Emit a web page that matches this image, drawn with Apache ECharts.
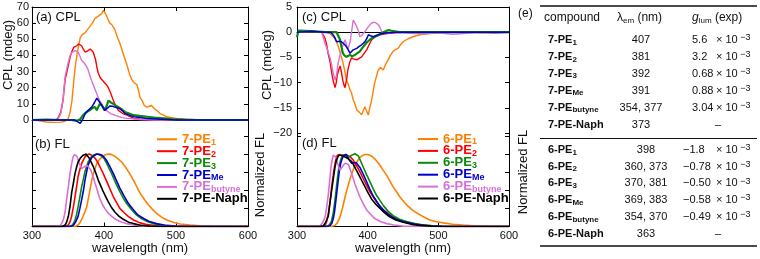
<!DOCTYPE html>
<html><head><meta charset="utf-8">
<script src="https://cdn.jsdelivr.net/npm/echarts@6/dist/echarts.min.js"></script>
<style>html,body{margin:0;padding:0;background:#fff}#c{width:760px;height:259px}</style>
</head><body><div id="c"></div><script>
// ---------- data ----------
const wavelengthTicks = [300, 400, 500, 600];
const names7 = ['7-PE{s|1}','7-PE{s|2}','7-PE{s|3}','7-PE{s|Me}','7-PE{s|butyne}','7-PE-Naph'];
const names6 = ['6-PE{s|1}','6-PE{s|2}','6-PE{s|3}','6-PE{s|Me}','6-PE{s|butyne}','6-PE-Naph'];
const lambda7 = ['407','381','392','391','354, 377','373'];
const lambda6 = ['398','360, 373','370, 381','369, 383','354, 370','363'];
const g7 = ['5.6','3.2','0.68','0.88','3.04',null];
const g6 = ['\u22121.8','\u22120.78','\u22120.50','\u22120.58','\u22120.49',null];

// (a) CPL, 7-PE series (nm, mdeg)
const cplA_PE1 = [[300,0],[310,-0.5],[320,-1.2],[330,-1.5],[340,-1.3],[346,-0.8],[350,0.5],[353,5],[355.5,12],[358,24],[360,33],[363,42],[367,51],[370,53],[373.6,54],[377,56],[380.5,58],[384,60],[387.5,63],[391,64],[394,65],[397,66],[399,68],[401,67],[403,65],[406,62],[408,60],[411,59],[413,58],[415,56],[418,52],[422,47.5],[426,42],[429,38],[432,34],[435,29],[438.6,25],[442,23],[445.6,22],[448,18],[450,14],[453,12],[456,9],[459.6,8],[463,8.5],[466,9],[470,7],[473,6],[478,4],[483,3],[487,2],[494,1.5],[501,1],[508,0.8],[515,0.5],[525,0.2],[540,0],[560,-0.2],[580,0],[600,0]];
const cplA_PE2 = [[300,0],[320,0],[333,0],[336,1],[340,5],[343,12],[346,25],[350,33],[353,39],[355,42],[358,45],[362,46],[365,47],[367,48],[369,46],[371,44],[374,42],[376,43],[378,43],[381,44],[383,44],[385,42],[388,38],[390,33],[392,29],[395,26],[399,24],[403,22],[406,20],[409,17],[413,12],[416,9],[420,6],[426,4],[432,3],[437,2],[441,1],[450,0.5],[470,0],[600,0]];
const cplA_PE3 = [[300,0],[320,0.3],[340,0],[355,0],[362,-0.5],[367,0.5],[371,3],[376,5],[380,6],[384,7.5],[387.5,8],[390,6],[392,8],[394,10],[397,9],[401,6],[404,9],[406,12],[409,11],[413,10],[416,9],[420,8],[425,6.5],[429,5],[435,4],[441,3],[450,2.5],[460,2],[470,1.5],[483,1],[495,0.5],[510,0.2],[530,0],[600,0]];
const cplA_PEMe = [[300,0],[340,0],[355,0],[360,0],[363,-1],[367,-2],[370,0],[374,4],[378,6],[383,8],[387,11],[390,13.5],[392,13],[394,11],[397,9],[401,6],[404,7],[408,8.6],[412,8.5],[415,8],[419,7.5],[422,7],[426,5.5],[429,4],[435,3],[441,2],[450,1.5],[460,1],[480,0.5],[500,0],[600,0]];
const cplA_PEbutyne = [[300,0],[330,0],[336,0.5],[340,4],[343,12],[346,27],[350,35],[353,40],[356,42],[360,43],[362,43],[364,42],[367,39],[369,37],[373,35],[376,33],[378,31],[380,28],[384,23],[387.5,19],[391,15],[394,12],[398,9],[403,6],[409,4],[415,3],[425,1.5],[432,1],[450,0.3],[470,0],[600,0]];

// (c) CPL, 6-PE series
const cplC_PE1 = [[300,0],[320,0.2],[340,0],[347,-0.3],[352,-1],[356,-1.9],[360,-3.5],[365,-6],[368,-8],[370,-9.5],[373,-10.5],[375,-11.5],[377,-12],[379.5,-13.4],[382,-14.2],[384.5,-15.4],[387,-15.6],[389,-16],[391.5,-16.4],[394,-15.5],[396,-14.8],[398,-15.5],[401,-16.4],[403,-15],[405.7,-13.4],[408,-11.5],[410,-10],[413,-8.5],[415,-7.5],[418,-7],[420,-7.3],[422,-7.5],[425,-6.5],[429,-5.5],[432,-4.6],[436,-3.8],[440,-3.4],[443,-3.2],[446,-2.6],[450,-1.9],[457,-1.3],[464,-0.9],[471,-0.6],[478,-0.4],[490,-0.2],[510,0],[540,0.1],[560,-0.1],[600,0]];
const cplC_PE2 = [[300,0],[320,0.2],[335,0],[339.6,-1.2],[342,-2.5],[344,-4.2],[347,-6],[349,-8],[351.5,-9.8],[353.8,-11],[355.5,-10],[357,-8.5],[359,-7.5],[361,-6.7],[363,-8],[364.7,-9.5],[366.5,-10.5],[368,-11],[370,-9.5],[372,-7.5],[374.5,-6],[377,-5.1],[380,-5.3],[384.5,-5.5],[388,-5.2],[391.5,-4.9],[395,-4.2],[398.6,-3.5],[402,-2.5],[405.7,-1.5],[410,-1],[417,-0.5],[430,-0.2],[450,0],[600,0]];
const cplC_PE3 = [[300,-1],[302,0.3],[320,0.2],[340,0],[356,0],[361,-1.5],[363,-3],[365,-4.2],[367,-4.6],[370,-4.9],[372,-4.7],[375,-4.5],[378,-4.8],[382,-4.5],[385,-4.2],[389,-3.8],[392,-3.2],[396,-2.5],[399,-2],[403,-1.5],[406,-1.2],[410,-0.9],[415,-0.6],[422,0],[427,0.3],[431,0.4],[436,0.2],[445,0],[600,0]];
const cplC_PEMe = [[300,0],[320,0.2],[340,0],[348,0],[351,-0.5],[354,-1.2],[356,-1.9],[360,-1.8],[363,-1.9],[367,-2.4],[370,-2.9],[373,-3.6],[375,-4.2],[377,-3.9],[379.5,-3.5],[382,-3.3],[384.5,-3.2],[388,-2.8],[391.5,-2.5],[394,-2.2],[396,-1.9],[399,-1.2],[401,-0.5],[404,-0.7],[408,-0.9],[411,-0.7],[415,-0.5],[422,-0.2],[440,0],[600,0]];
const cplC_PEbutyne = [[300,0],[320,0.2],[335,0],[339.6,-2.2],[343,-3.5],[346.7,-5.1],[349,-6.5],[351,-8],[354,-9.5],[356,-8.5],[357.5,-6.7],[360,-5],[363,-3.5],[366,-2.2],[368,-1.5],[370,-2.5],[372,-3.5],[375,-2],[377,-0.2],[379.5,2.4],[382,1.8],[384.5,1.1],[387,0.2],[389,-0.9],[392,-0.6],[394,-0.2],[397,0.3],[401,1.1],[404,1.6],[408,2],[411,1.9],[415,1.5],[418,0.8],[420,0],[425,-0.3],[431,-0.1],[440,0],[460,-0.2],[480,-0.3],[500,-0.1],[520,-0.4],[540,-0.2],[560,0],[580,-0.2],[600,0]];

// (b) normalized FL, 7-PE series
const flB_PE1 = [[300,0],[360,0],[364,0.02],[367,0.06],[370,0.12],[373,0.19],[376,0.27],[379.5,0.45],[383,0.64],[386.5,0.77],[390,0.87],[393.5,0.92],[397,0.96],[401,0.985],[406,1.0],[410,0.995],[415,0.97],[420,0.93],[424.5,0.89],[429,0.83],[433.8,0.76],[438.5,0.68],[443,0.6],[447.5,0.51],[452,0.43],[457,0.36],[461.6,0.3],[467,0.24],[473,0.18],[480,0.13],[487,0.09],[496,0.06],[505.6,0.035],[520,0.02],[533,0.01],[550,0.004],[600,0]];
const flB_PE2 = [[300,0],[345,0],[350.5,0.02],[353,0.07],[355,0.14],[357.5,0.27],[359.7,0.41],[362,0.55],[364,0.69],[366.5,0.79],[369,0.87],[371.5,0.92],[373.6,0.96],[376.5,0.99],[379.6,1.0],[382,0.99],[385,0.97],[388.5,0.93],[392,0.87],[395.5,0.8],[399,0.73],[402.5,0.65],[406,0.57],[409.5,0.49],[413,0.41],[417.5,0.33],[422,0.25],[428,0.19],[433.7,0.14],[441,0.09],[450,0.05],[458,0.03],[468,0.016],[480,0.007],[496,0],[600,0]];
const flB_PE3 = [[300,0],[350,0],[355,0.01],[357.5,0.04],[359.7,0.09],[362,0.17],[364,0.27],[366.5,0.41],[369,0.55],[371.5,0.66],[373.6,0.76],[376,0.83],[378,0.89],[380.5,0.93],[383,0.97],[386.5,0.99],[390,1.0],[393.5,0.99],[397,0.97],[400.5,0.93],[403.7,0.87],[407,0.8],[410.7,0.73],[414,0.65],[417.6,0.57],[422,0.48],[426.8,0.39],[432,0.31],[438.4,0.23],[445,0.16],[452,0.11],[460,0.07],[468,0.04],[477,0.02],[487,0.008],[500,0],[600,0]];
const flB_PEMe = [[300,0],[352,0],[357,0.01],[360.5,0.06],[364,0.14],[366.5,0.25],[369,0.37],[371.5,0.5],[373.6,0.64],[376,0.76],[378,0.85],[380.5,0.9],[383,0.95],[386.5,0.98],[390,1.0],[393.5,0.995],[397,0.985],[400.5,0.95],[403.7,0.91],[408,0.83],[413,0.73],[417.5,0.63],[422,0.53],[428,0.42],[433.7,0.32],[440,0.24],[447,0.16],[455,0.11],[463,0.07],[473,0.04],[487,0.015],[500,0.005],[520,0],[600,0]];
const flB_PEbutyne = [[300,0],[334,0],[338.9,0.01],[341,0.04],[343.5,0.09],[346,0.2],[348,0.37],[350.5,0.55],[352.8,0.73],[355,0.86],[357,0.96],[359,0.99],[361,1.0],[362.5,0.97],[364,0.92],[366.5,0.85],[369,0.8],[371,0.8],[373.6,0.83],[376.8,0.84],[379,0.82],[381.5,0.78],[384.5,0.7],[387.5,0.6],[391,0.49],[394,0.39],[397.5,0.31],[401,0.25],[405.5,0.19],[410.7,0.14],[416,0.1],[422,0.07],[431,0.04],[441,0.02],[455,0.005],[470,0],[600,0]];
const flB_PENaph = [[300,0],[342,0],[346,0.02],[348,0.06],[350.5,0.14],[353,0.29],[355,0.46],[357.5,0.6],[359.7,0.73],[362,0.82],[364,0.89],[367,0.94],[370.4,0.98],[372.5,0.995],[375,1.0],[377,0.98],[379.6,0.94],[382,0.89],[385,0.83],[388.5,0.74],[392,0.64],[395.5,0.56],[399,0.48],[402.5,0.41],[406,0.34],[410,0.27],[415,0.2],[421,0.14],[426.8,0.1],[434,0.06],[441,0.04],[452,0.015],[463,0.005],[480,0],[600,0]];

// (d) normalized FL, 6-PE series
const flD_PE1 = [[300,0],[348,0],[353.7,0.015],[357,0.05],[360.8,0.13],[364.5,0.26],[368,0.41],[371.5,0.54],[375,0.66],[378.5,0.76],[382,0.85],[385.5,0.91],[389,0.96],[392.5,0.985],[396.3,1.0],[400,1.0],[403.3,0.99],[406.5,0.97],[410,0.94],[413.5,0.9],[417.5,0.85],[422,0.78],[427,0.71],[431.5,0.63],[436,0.55],[441,0.48],[445.7,0.41],[451.5,0.34],[457.5,0.28],[463,0.23],[469,0.19],[478,0.14],[488,0.09],[497,0.065],[507,0.05],[520,0.032],[535,0.02],[550,0.01],[563.6,0.005],[580,0],[600,0]];
const flD_PE2 = [[300,0],[335,0],[339.7,0.01],[342,0.07],[344.4,0.18],[347,0.36],[349,0.55],[351.5,0.73],[353.7,0.87],[355.5,0.95],[357,0.99],[360.8,1.0],[364.6,0.97],[368,0.985],[371,0.99],[375,0.97],[379.8,0.92],[383,0.86],[386.8,0.8],[390.5,0.73],[394,0.66],[398.5,0.57],[403.3,0.48],[408,0.41],[412.7,0.34],[417.5,0.28],[422.2,0.23],[429,0.18],[436,0.13],[445,0.09],[455,0.06],[467,0.035],[478.7,0.02],[495,0.008],[510,0],[600,0]];
const flD_PE3 = [[300,0],[340,0],[344.4,0.01],[347,0.04],[349,0.08],[351.5,0.2],[353.7,0.36],[355.5,0.52],[357.5,0.69],[359,0.8],[360.8,0.89],[362.7,0.95],[364.6,0.99],[367,1.0],[369.4,1.0],[371,0.98],[372.7,0.96],[375,0.97],[377.4,0.99],[380,1.0],[382,1.01],[384.5,1.0],[386.8,0.98],[390,0.91],[394,0.82],[398.5,0.72],[403.3,0.62],[408,0.52],[412.7,0.43],[417.5,0.36],[422.2,0.29],[429,0.21],[436,0.15],[445,0.1],[455,0.07],[467,0.04],[478.7,0.02],[497,0.008],[515,0],[600,0]];
const flD_PEMe = [[300,0],[342,0],[346.7,0.01],[349,0.04],[351.4,0.11],[353,0.2],[355,0.36],[356.8,0.51],[358.5,0.66],[360,0.78],[361.7,0.87],[363.5,0.93],[365.6,0.98],[367.5,0.995],[369.4,1.0],[371,0.98],[373,0.94],[375,0.91],[377.4,0.88],[380,0.88],[383.5,0.89],[386,0.87],[389,0.82],[393.5,0.73],[398.6,0.62],[403,0.52],[408,0.42],[412.7,0.35],[417.5,0.28],[424,0.21],[431.6,0.15],[440,0.1],[450,0.07],[462,0.04],[474,0.02],[490,0.008],[505,0],[600,0]];
const flD_PEbutyne = [[300,0],[328,0],[332.6,0.01],[336,0.05],[339.7,0.13],[342,0.27],[344.4,0.45],[346.3,0.64],[348,0.82],[350,0.94],[351.4,0.99],[353.7,1.0],[355.5,0.96],[357,0.89],[359,0.83],[360.8,0.78],[363,0.8],[365.6,0.85],[368,0.88],[370.3,0.89],[372.7,0.86],[375,0.8],[378.5,0.7],[382,0.59],[385.5,0.5],[389,0.41],[393.5,0.32],[398.6,0.23],[404,0.17],[410,0.11],[418,0.07],[427,0.04],[437,0.02],[450,0.005],[470,0],[600,0]];
const flD_PENaph = [[300,0],[332,0],[337.3,0.01],[340,0.05],[342,0.09],[344.4,0.15],[346.5,0.32],[349,0.5],[351.5,0.67],[353.7,0.82],[355.5,0.91],[357.5,0.96],[359.5,0.99],[361.7,1.0],[363.7,0.99],[365.6,0.98],[368,0.965],[370.3,0.95],[372.7,0.94],[375,0.93],[377.4,0.9],[379.8,0.86],[383,0.8],[386.8,0.73],[391.5,0.64],[396.3,0.55],[401,0.46],[405.7,0.38],[411.5,0.31],[417.5,0.25],[424,0.19],[431.6,0.13],[440,0.09],[450,0.06],[462,0.03],[474,0.015],[490,0.005],[505,0],[600,0]];

// ---------- styling / layout ----------
const COLORS = ['#FF8000','#FF0000','#0A8A0A','#0000CC','#DA70D6','#000000'];
const FONT = '"Liberation Sans", Arial, Helvetica, sans-serif';
const G = [
  {left:32, top:7, width:216, height:113},
  {left:32, top:120, width:216, height:106.5},
  {left:297, top:7, width:212, height:126},
  {left:297, top:133, width:212, height:93.5}
];
const FL_MAX_B = 106.5/72.5;
const FL_MAX_D = 93.5/72;
const BLACK = '#000';

function xAx(gi, pos, o) {
  return Object.assign({
    gridIndex: gi, type:'value', min: wavelengthTicks[0], max: wavelengthTicks[wavelengthTicks.length-1], interval: 100,
    position: pos,
    axisLine: {show:true, onZero:false, lineStyle:{color:BLACK, width:1}},
    axisTick: {show:true, inside:true, length:4, lineStyle:{color:BLACK}},
    axisLabel: {show:false},
    splitLine: {show:false}
  }, o || {});
}
function yAx(gi, pos, min, max, interval, o) {
  return Object.assign({
    gridIndex: gi, type:'value', min, max, interval, position: pos,
    axisLine: {show:true, onZero:false, lineStyle:{color:BLACK, width:1}},
    axisTick: {show:true, inside:true, length:4, lineStyle:{color:BLACK}},
    axisLabel: {show:false},
    splitLine: {show:false}
  }, o || {});
}
const bottomLabel = {show:true, color:'#111', fontSize:11, fontFamily:FONT, margin:4, showMinLabel:true, showMaxLabel:true};
const xName = {name:'wavelength (nm)', nameLocation:'middle', nameGap:15,
  nameTextStyle:{color:'#111', fontSize:13, fontFamily:FONT, verticalAlign:'top'}};

const xAxis = [
  xAx(0,'bottom',{axisTick:{show:false}}),
  xAx(0,'top'),
  xAx(1,'bottom',Object.assign({axisLabel:bottomLabel}, xName)),
  xAx(2,'bottom',{axisLine:{show:true, onZero:true, lineStyle:{color:BLACK, width:1}}, axisTick:{show:false}}),
  xAx(2,'top'),
  xAx(3,'bottom',Object.assign({axisLabel:bottomLabel}, xName))
];
const yAxis = [
  yAx(0,'left',0,70,10,{axisLabel:{show:true, color:'#111', fontSize:11, fontFamily:FONT, margin:3, showMinLabel:true, showMaxLabel:true}}),
  yAx(0,'right',0,70,10),
  yAx(1,'left',0,FL_MAX_B,0.25),
  yAx(1,'right',0,FL_MAX_B,0.25),
  yAx(2,'left',-20,5,5,{axisLabel:{show:true, color:'#111', fontSize:11, fontFamily:FONT, margin:5,
      showMinLabel:true, showMaxLabel:true, hideOverlap:false,
      formatter: v => String(v).replace('-', '\u2212')}}),
  yAx(2,'right',-20,5,5),
  yAx(3,'left',0,FL_MAX_D,0.25),
  yAx(3,'right',0,FL_MAX_D,0.25)
];

function ls(name, data, color, xi, yi, w, clip) {
  return {name, type:'line', data, xAxisIndex:xi, yAxisIndex:yi, showSymbol:false, symbol:'none',
    lineStyle:{color, width:w}, itemStyle:{color}, clip: clip, silent:true, animation:false, z:3};
}
const series = [
  ls('a1', cplA_PE1, COLORS[0], 0, 0, 1.4, false),
  ls('a2', cplA_PE2, COLORS[1], 0, 0, 1.4, false),
  ls('a5', cplA_PEbutyne, COLORS[4], 0, 0, 1.4, false),
  ls('a3', cplA_PE3, COLORS[2], 0, 0, 2.2, false),
  ls('a4', cplA_PEMe, COLORS[3], 0, 0, 1.5, false),
  ls('b1', flB_PE1, COLORS[0], 2, 2, 1.6, true),
  ls('b2', flB_PE2, COLORS[1], 2, 2, 1.6, true),
  ls('b3', flB_PE3, COLORS[2], 2, 2, 1.6, true),
  ls('b4', flB_PEMe, COLORS[3], 2, 2, 1.6, true),
  ls('b5', flB_PEbutyne, COLORS[4], 2, 2, 1.6, true),
  ls('b6', flB_PENaph, COLORS[5], 2, 2, 1.6, true),
  ls('c1', cplC_PE1, COLORS[0], 3, 4, 1.4, true),
  ls('c2', cplC_PE2, COLORS[1], 3, 4, 1.4, true),
  ls('c5', cplC_PEbutyne, COLORS[4], 3, 4, 1.4, true),
  ls('c3', cplC_PE3, COLORS[2], 3, 4, 2.2, true),
  ls('c4', cplC_PEMe, COLORS[3], 3, 4, 1.5, true),
  ls('d1', flD_PE1, COLORS[0], 5, 6, 1.6, true),
  ls('d2', flD_PE2, COLORS[1], 5, 6, 1.6, true),
  ls('d3', flD_PE3, COLORS[2], 5, 6, 1.6, true),
  ls('d4', flD_PEMe, COLORS[3], 5, 6, 1.6, true),
  ls('d5', flD_PEbutyne, COLORS[4], 5, 6, 1.6, true),
  ls('d6', flD_PENaph, COLORS[5], 5, 6, 1.6, true)
];

// ---------- text / legend / table ----------
const graphic = [];
function txt(x, y, text, font, opts) {
  graphic.push(Object.assign({type:'text', x, y, silent:true, style: Object.assign({
    text, font, fill:'#111', align:'left', verticalAlign:'middle'}, (opts && opts.style) || {})},
    (opts && opts.el) || {}));
}
const F13 = '13px ' + FONT;
txt(36, 17, '(a) CPL', F13);
txt(35, 144, '(b) FL', F13);
txt(302, 17, '(c) CPL', F13);
txt(302, 143, '(d) FL', F13);
txt(8, 55, 'CPL (mdeg)', F13, {style:{align:'center'}, el:{rotation:Math.PI/2}});
txt(267, 65, 'CPL (mdeg)', F13, {style:{align:'center'}, el:{rotation:Math.PI/2}});
txt(260, 175, 'Normalized FL', F13, {style:{align:'center'}, el:{rotation:Math.PI/2}});
txt(523, 172, 'Normalized FL', F13, {style:{align:'center'}, el:{rotation:Math.PI/2}});

// legends
function legendBlock(names, x0, y0) {
  names.forEach((n, i) => {
    const y = y0 + i * 11.9;
    graphic.push({type:'line', silent:true, shape:{x1:x0, y1:y, x2:x0+20, y2:y},
      style:{stroke:COLORS[i], lineWidth:2}});
    txt(x0 + 25, y, n, 'bold 13px ' + FONT, {style:{fill:COLORS[i], lineHeight:15,
      rich:{s:{font:'bold 9px ' + FONT, verticalAlign:'bottom', lineHeight:9}}}});
  });
}
legendBlock(names7, 157, 139.3);
legendBlock(names6, 418, 139);

// table
const TF = '11px ' + FONT;
const richSub = {s:{font:'8px ' + FONT, verticalAlign:'bottom', lineHeight:8},
                 bs:{font:'bold 8px ' + FONT, verticalAlign:'bottom', lineHeight:8},
                 sup:{font:'9px ' + FONT, verticalAlign:'top', lineHeight:9},
                 i:{font:'italic 12px ' + FONT}};
function rule(y, w) {
  graphic.push({type:'line', silent:true, shape:{x1:540, y1:y, x2:757, y2:y}, style:{stroke:'#111', lineWidth:w}});
}
rule(6, 1.5); rule(138.5, 1.2); rule(246, 1.5);
txt(518, 14, '(e)', '12px ' + FONT);
txt(544, 18, 'compound', '12px ' + FONT);
txt(617, 18, '\u03bb{s|em} (nm)', '12px ' + FONT, {style:{lineHeight:14, rich:richSub}});
txt(692, 18, '{i|g}{s|lum} (exp)', '12px ' + FONT, {style:{lineHeight:14, rich:richSub}});
function tableBlock(names, lam, gv, ys, lamX, gX) {
  names.forEach((n, i) => {
    const y = ys[i];
    txt(548, y, n.replace('{s|', '{bs|'), 'bold 11px ' + FONT, {style:{lineHeight:13, rich:richSub}});
    txt(lamX, y, lam[i], TF, {style:{align:'center'}});
    if (gv[i] === null) {
      txt(718, y, '\u2013', TF, {style:{align:'center'}});
    } else {
      txt(gX, y, gv[i], TF);
      txt(716, y, '\u00d7 10{sup| \u22123}', TF, {style:{lineHeight:13, rich:richSub}});
    }
  });
}
tableBlock(names7, lambda7, g7, [40,57,73.5,90.5,107.5,124.5], 641, 692);
tableBlock(names6, lambda6, g6, [150,166.7,183.3,200,217,233.5], 646, 683);

const chart = echarts.init(document.getElementById('c'), null, {renderer:'canvas', width:760, height:259});
chart.setOption({
  animation:false,
  backgroundColor:'#fff',
  grid: G.map(g => Object.assign({containLabel:false, outerBoundsMode:'none'}, g)),
  xAxis, yAxis, series, graphic
});
</script></body></html>
